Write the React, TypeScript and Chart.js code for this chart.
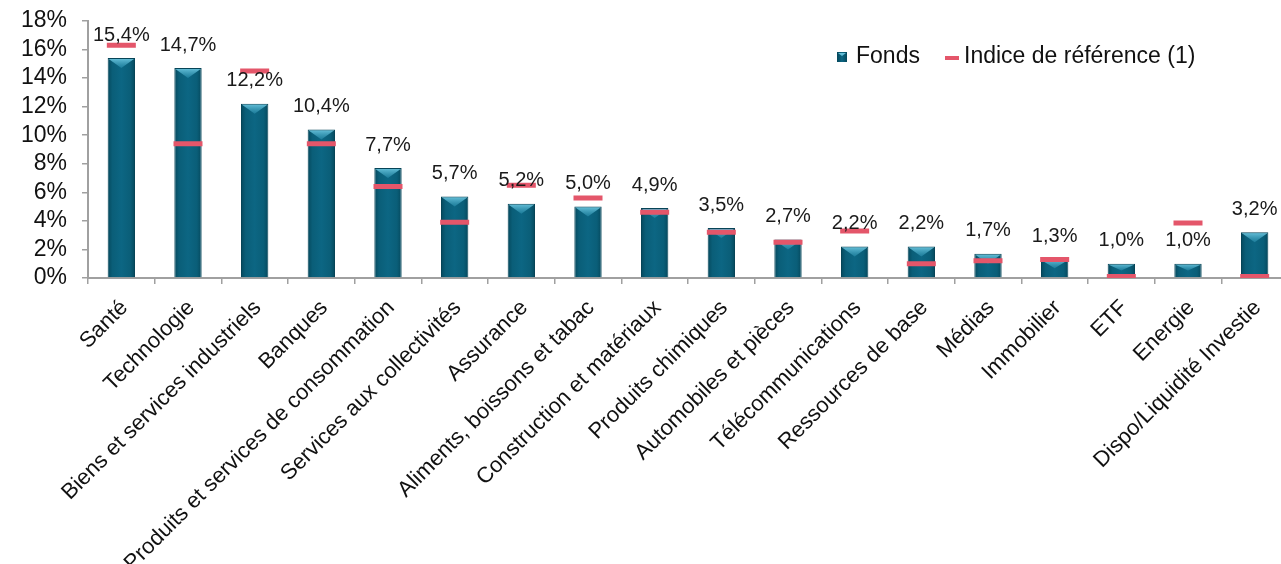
import React, { useEffect, useRef } from 'react';
import { Chart, registerables } from 'chart.js';

Chart.register(...registerables);

const categories = [
  'Santé',
  'Technologie',
  'Biens et services industriels',
  'Banques',
  'Produits et services de consommation',
  'Services aux collectivités',
  'Assurance',
  'Aliments, boissons et tabac',
  'Construction et matériaux',
  'Produits chimiques',
  'Automobiles et pièces',
  'Télécommunications',
  'Ressources de base',
  'Médias',
  'Immobilier',
  'ETF',
  'Energie',
  'Dispo/Liquidité Investie',
];

const fondsValues = [15.4, 14.7, 12.2, 10.4, 7.7, 5.7, 5.2, 5.0, 4.9, 3.5, 2.7, 2.2, 2.2, 1.7, 1.3, 1.0, 1.0, 3.2];
const indiceValues = [16.3, 9.4, 14.5, 9.4, 6.4, 3.9, 6.5, 5.6, 4.6, 3.2, 2.5, 3.3, 1.0, 1.2, 1.3, 0.1, 3.85, 0.1];

const seriesNames = ['Fonds', 'Indice de référence (1)'];
const yMin = 0;
const yMax = 18;
const yStep = 2;

const FONT = "'Liberation Sans', Arial, sans-serif";
const BAR_COLOR = '#0b617c';
const BAR_BORDER = '#064457';
const MARK_COLOR = '#e4566a';

const fmt = (v: number) => v.toFixed(1).replace('.', ',') + '%';

const barFill = (c: any) => {
  const chart = c.chart;
  const xScale = chart.scales && chart.scales.x;
  if (!xScale || c.dataIndex === undefined) return BAR_COLOR;
  const x = xScale.getPixelForValue(c.dataIndex);
  if (!isFinite(x)) return BAR_COLOR;
  const g = chart.ctx.createLinearGradient(x - 14, 0, x + 14, 0);
  g.addColorStop(0, '#05475b');
  g.addColorStop(0.18, '#0a5e78');
  g.addColorStop(0.5, '#0c6683');
  g.addColorStop(0.82, '#0a5e78');
  g.addColorStop(1, '#05475b');
  return g;
};

const bevelPlugin = {
  id: 'bevel',
  afterDatasetDraw(chart: any, args: any) {
    if (args.index !== 0) return;
    const ctx = chart.ctx;
    const meta = chart.getDatasetMeta(0);
    ctx.save();
    meta.data.forEach((bar: any) => {
      const half = bar.width / 2;
      const h = Math.min(10, (bar.base - bar.y) / 2);
      const g = ctx.createLinearGradient(0, bar.y, 0, bar.y + h);
      g.addColorStop(0, 'rgba(110,200,225,0.95)');
      g.addColorStop(1, 'rgba(40,140,170,0.6)');
      ctx.fillStyle = g;
      ctx.beginPath();
      ctx.moveTo(bar.x - half + 1, bar.y + 1);
      ctx.lineTo(bar.x + half - 1, bar.y + 1);
      ctx.lineTo(bar.x, bar.y + h);
      ctx.closePath();
      ctx.fill();
    });
    ctx.restore();
  },
};

const dataLabelPlugin = {
  id: 'dataLabels',
  afterDatasetsDraw(chart: any) {
    const ctx = chart.ctx;
    const meta = chart.getDatasetMeta(0);
    ctx.save();
    ctx.font = `20px ${FONT}`;
    ctx.fillStyle = '#1a1a1a';
    ctx.textAlign = 'center';
    ctx.textBaseline = 'middle';
    meta.data.forEach((bar: any, i: number) => {
      ctx.fillText(fmt(fondsValues[i]), bar.x, bar.y - 23);
    });
    ctx.restore();
  },
};

const legendPlugin = {
  id: 'customLegend',
  afterDraw(chart: any) {
    const ctx = chart.ctx;
    ctx.save();
    ctx.font = `23px ${FONT}`;
    ctx.textBaseline = 'alphabetic';
    ctx.textAlign = 'left';
    const g = ctx.createLinearGradient(837, 0, 847, 0);
    g.addColorStop(0, '#05475b');
    g.addColorStop(0.5, '#0c6683');
    g.addColorStop(1, '#05475b');
    ctx.fillStyle = g;
    ctx.fillRect(837, 52, 10, 10);
    ctx.fillStyle = 'rgba(110,200,225,0.9)';
    ctx.beginPath();
    ctx.moveTo(838, 53);
    ctx.lineTo(846, 53);
    ctx.lineTo(842, 56);
    ctx.closePath();
    ctx.fill();
    ctx.fillStyle = '#111';
    ctx.fillText(seriesNames[0], 856, 63);
    ctx.fillStyle = MARK_COLOR;
    ctx.fillRect(945, 56, 14, 4);
    ctx.fillStyle = '#111';
    ctx.fillText(seriesNames[1], 964, 63);
    ctx.restore();
  },
};

export default function App() {
  const canvasRef = useRef<HTMLCanvasElement | null>(null);

  useEffect(() => {
    const canvas = canvasRef.current;
    if (!canvas) return;
    const chart = new Chart(canvas, {
      type: 'bar',
      data: {
        labels: categories,
        datasets: [
          {
            type: 'bar',
            label: seriesNames[0],
            data: fondsValues,
            backgroundColor: barFill,
            borderColor: BAR_BORDER,
            borderWidth: 1,
            barPercentage: 0.41,
            categoryPercentage: 1,
            order: 2,
          } as any,
          {
            type: 'line',
            label: seriesNames[1],
            data: indiceValues,
            showLine: false,
            pointStyle: 'line',
            pointRadius: 14.5,
            pointHoverRadius: 14.5,
            pointBorderWidth: 5,
            borderWidth: 5,
            pointBorderColor: MARK_COLOR,
            borderColor: MARK_COLOR,
            backgroundColor: MARK_COLOR,
            order: 1,
          } as any,
        ],
      },
      options: {
        responsive: false,
        animation: false,
        events: [],
        layout: { autoPadding: false, padding: { left: 0, top: 21, right: 12, bottom: 0 } },
        plugins: {
          legend: { display: false },
          tooltip: { enabled: false },
          title: { display: false },
        },
        scales: {
          x: {
            offset: true,
            grid: {
              display: true,
              drawOnChartArea: false,
              drawTicks: true,
              tickLength: 6,
              color: '#a0a0a0',
              lineWidth: 1.5,
              offset: true,
            },
            border: { display: true, color: '#a0a0a0', width: 2 },
            ticks: {
              autoSkip: false,
              maxRotation: 45,
              minRotation: 45,
              padding: 11,
              labelOffset: 3,
              color: '#111',
              font: { family: FONT, size: 22 },
            },
            afterFit: (scale: any) => {
              scale.height = 564 - 278;
            },
          },
          y: {
            min: yMin,
            max: yMax,
            grid: {
              display: true,
              drawOnChartArea: false,
              drawTicks: true,
              tickLength: 6,
              color: '#a0a0a0',
              lineWidth: 1.5,
            },
            border: { display: true, color: '#a0a0a0', width: 2 },
            ticks: {
              stepSize: yStep,
              autoSkip: false,
              padding: 15,
              color: '#111',
              font: { family: FONT, size: 23 },
              callback: (v: any) => `${v}%`,
            },
            afterFit: (scale: any) => {
              scale.width = 88;
              scale.paddingTop = 0;
              scale.paddingBottom = 0;
            },
          },
        },
      },
      plugins: [bevelPlugin, dataLabelPlugin, legendPlugin],
    });
    return () => chart.destroy();
  }, []);

  return (
    <div
      style={{
        position: 'fixed',
        left: 0,
        top: 0,
        width: 1281,
        height: 564,
        overflow: 'hidden',
        background: '#fff',
      }}
    >
      <canvas ref={canvasRef} width={1300} height={564} style={{ width: 1300, height: 564, display: 'block' }} />
    </div>
  );
}
